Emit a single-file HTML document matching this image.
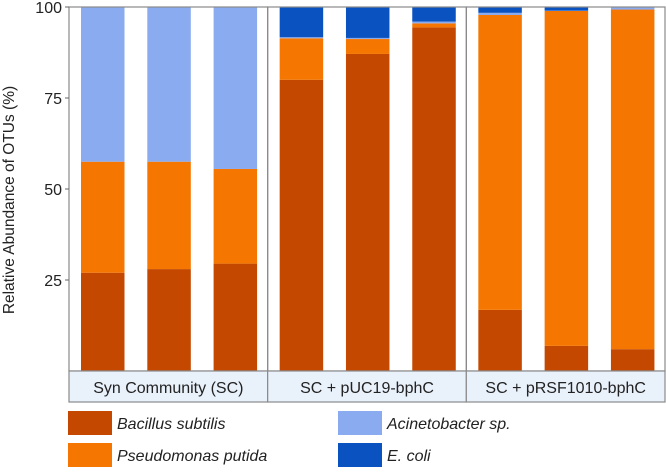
<!DOCTYPE html>
<html><head><meta charset="utf-8"><style>
body{margin:0;background:#fff;width:666px;height:467px;overflow:hidden;font-family:"Liberation Sans",sans-serif}
</style></head><body>
<svg id="chart" width="666" height="467" xmlns="http://www.w3.org/2000/svg" font-family="Liberation Sans, sans-serif"></svg>
<script>
const facets=["Syn Community (SC)","SC + pUC19-bphC","SC + pRSF1010-bphC"];
const species=["Bacillus subtilis","Pseudomonas putida","Acinetobacter sp.","E. coli"];
const colors=["#c44800","#f57600","#8babf1","#0a52bf"];
const bacillus=[27,28,29.5,80,87.1,94.4,16.8,6.9,6];
const pseudomonas=[30.5,29.5,26,11.4,4.1,1.1,81,92,93.3];
const acinetobacter=[42.5,42.5,44.5,0.3,0.3,0.5,0.6,0.1,0.7];
const ecoli=[0,0,0,8.3,8.5,4,1.6,1,0];
const yTicks=[25,50,75,100];
const series=[bacillus,pseudomonas,acinetobacter,ecoli];
const L=69,R=665,T=7,B=371;
const fw=(R-L)/3;
const y=v=>B-(v/100)*(B-T);
const svg=document.getElementById('chart');
const NS="http://www.w3.org/2000/svg";
function mk(tag,attrs,parent){const e=document.createElementNS(NS,tag);for(const k in attrs)e.setAttribute(k,attrs[k]);(parent||svg).appendChild(e);return e;}
for(let i=0;i<bacillus.length;i++){
  const f=Math.floor(i/3),j=i%3;
  const x=L+f*fw+12+j*66.3;
  let cum=0;
  for(let s=0;s<series.length;s++){
    const v=series[s][i];if(v<=0)continue;
    const r=mk('rect',{x:x,y:y(cum+v),width:43.5,height:y(cum)-y(cum+v),fill:colors[s]});
    
    
    cum+=v;
  }
}
for(let f=0;f<3;f++){
  const x0=L+f*fw;
  const fr=mk('rect',{x:x0,y:T,width:fw,height:B-T,fill:'none',stroke:'#8a8a8a','stroke-width':1.2});
  
  
  const st=mk('rect',{x:x0,y:B,width:fw,height:31,fill:'#e9f1fb',stroke:'#8a8a8a','stroke-width':1.2});
  
  
  const t=mk('text',{x:x0+fw/2,y:B+22,'text-anchor':'middle','font-size':16,fill:'#222'});
  t.textContent=facets[f];
  
  
}
yTicks.forEach(v=>{
  mk('line',{x1:L-4,x2:L,y1:y(v),y2:y(v),stroke:'#666'});
  const t=mk('text',{x:L-7,y:y(v)+6,'text-anchor':'end','font-size':16,fill:'#222'});
  t.textContent=v;
  
  
});
const yt=mk('text',{x:0,y:0,transform:'translate(14,200) rotate(-90)','text-anchor':'middle','font-size':15.5,fill:'#222'});
yt.textContent='Relative Abundance of OTUs (%)';


const lx=[68,338],ly=[411,443];
species.forEach((s,k)=>{
  const cx=lx[Math.floor(k/2)],cy=ly[k%2];
  const r=mk('rect',{x:cx,y:cy,width:44,height:24,fill:colors[k]});
  
  
  const t=mk('text',{x:cx+49,y:cy+18,'font-size':16,'font-style':'italic',fill:'#222'});
  t.textContent=s;
  
  
});
</script>
</body></html>
